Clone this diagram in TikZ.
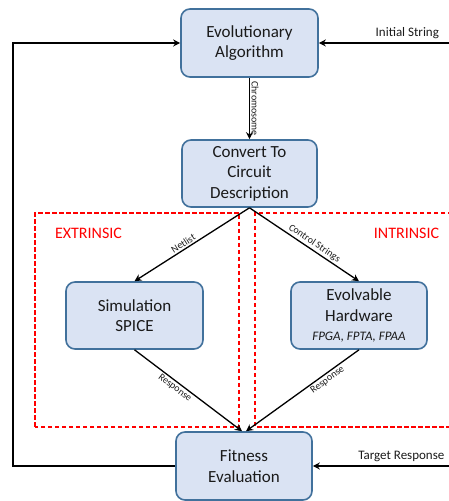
\documentclass[tikz,border=0pt]{standalone}
\usepackage{fontspec}
\setmainfont{Carlito}
\usetikzlibrary{arrows.meta}
\definecolor{boxfill}{HTML}{DAE3F3}
\definecolor{boxline}{HTML}{41719C}
\definecolor{txt}{HTML}{1A1A1A}
\begin{document}
\begin{tikzpicture}[x=1pt,y=1pt,
  block/.style={draw=boxline, line width=1.6pt, fill=boxfill, rounded corners=9pt,
    align=center, text=txt, inner sep=0pt,
    font=\fontsize{17}{20.5}\selectfont},
  conn/.style={draw=black, line width=1.3pt},
  arr/.style={conn, -{Stealth[length=7pt,width=7pt]}},
  lbl/.style={font=\fontsize{10}{12}\selectfont, text=txt, inner sep=1.5pt},
  side/.style={font=\fontsize{13}{15}\selectfont, text=txt},
  zone/.style={draw=red, line width=1.3pt, dash pattern=on 4.5pt off 2.5pt},
  zonetitle/.style={font=\fontsize{16}{19}\selectfont, text=red}
]
\useasboundingbox (0,0) rectangle (448,501);

% extrinsic / intrinsic regions
\draw[zone] (35,74) rectangle (239,288);
\draw[zone] (452,288) -- (255,288) -- (255,74) -- (452,74);
\node[zonetitle] (ext) at (88.5,268) {EXTRINSIC};
\node[zonetitle] (int) at (406.5,268) {INTRINSIC};

% blocks
\node[block, minimum width=137pt, minimum height=68pt] (ea) at (249.5,458) {Evolutionary\\Algorithm};
\node[block, minimum width=135pt, minimum height=67pt] (cv) at (249.5,327.5) {Convert To\\Circuit\\Description};
\node[block, minimum width=137pt, minimum height=67pt] (sim) at (134.5,185.5) {Simulation\\SPICE};
\node[block, minimum width=136pt, minimum height=67pt] (eh) at (359,185.5)
  {Evolvable\\Hardware\\[-1pt]{\fontsize{13}{15}\selectfont\itshape FPGA, FPTA, FPAA}};
\node[block, minimum width=136pt, minimum height=68pt] (fit) at (244,35) {Fitness\\Evaluation};

% inputs from the right edge
\coordinate (inS) at (449,458);
\coordinate (inT) at (449,35);
\draw[arr] (inS) -- node[side, above, pos=0.32] {Initial String} (ea.east);
\draw[arr] (inT) -- node[side, above, pos=0.35] {Target Response} (fit.east);

% main flow
\draw[arr] (ea.south) -- node[lbl, sloped, above, pos=0.5] {Chromosome} (cv.north);
\draw[arr] (cv.south) -- node[lbl, sloped, above, pos=0.55] {Netlist} (sim.north);
\draw[arr] (cv.south) -- node[lbl, sloped, above, pos=0.56] {Control Strings} (eh.north);
\draw[arr] (sim.south) -- node[lbl, sloped, below, pos=0.41] {Response} ([xshift=-2pt]fit.north);
\draw[arr] (eh.south) -- node[lbl, sloped, below, pos=0.31] {Response} ([xshift=2pt]fit.north);

% feedback loop
\coordinate (fb1) at (13,35);
\coordinate (fb2) at (13,458);
\draw[conn, -{Stealth[length=7pt,width=7pt]}] (fit.west) -- (fb1) -- (fb2) -- (ea.west);
\end{tikzpicture}
\end{document}
